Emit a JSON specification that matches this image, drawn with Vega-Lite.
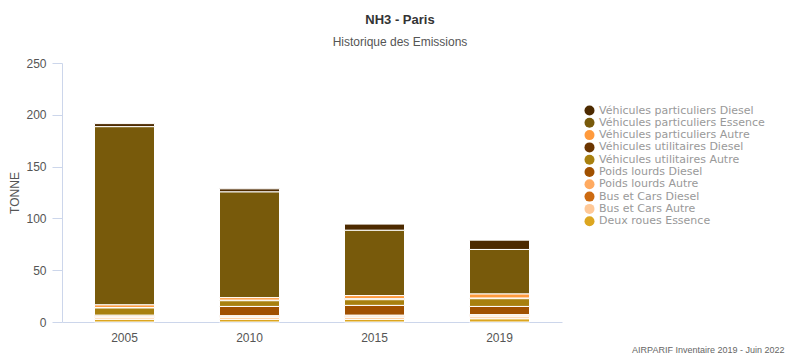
{
  "$schema": "https://vega.github.io/schema/vega-lite/v6.json",
  "width": 500,
  "height": 259,
  "autosize": {"type": "none"},
  "padding": {"left": 62, "top": 63, "right": 233, "bottom": 34},
  "background": "white",
  "title": {
    "text": "NH3 - Paris",
    "subtitle": "Historique des Emissions",
    "anchor": "middle",
    "dx": 88,
    "offset": 9,
    "font": "Liberation Sans",
    "fontSize": 13,
    "fontWeight": "bold",
    "color": "#333333",
    "subtitleFont": "Liberation Sans",
    "subtitleFontSize": 12,
    "subtitleColor": "#555555",
    "subtitlePadding": 10
  },
  "data": {
    "values": [
      {"annee": "2005", "categorie": "Véhicules particuliers Diesel", "rang": 1, "tonnes": 3},
      {"annee": "2005", "categorie": "Véhicules particuliers Essence", "rang": 2, "tonnes": 172},
      {"annee": "2005", "categorie": "Véhicules particuliers Autre", "rang": 3, "tonnes": 2.5},
      {"annee": "2005", "categorie": "Véhicules utilitaires Diesel", "rang": 4, "tonnes": 0.5},
      {"annee": "2005", "categorie": "Véhicules utilitaires Autre", "rang": 5, "tonnes": 7},
      {"annee": "2005", "categorie": "Poids lourds Diesel", "rang": 6, "tonnes": 1},
      {"annee": "2005", "categorie": "Poids lourds Autre", "rang": 7, "tonnes": 1},
      {"annee": "2005", "categorie": "Bus et Cars Diesel", "rang": 8, "tonnes": 0.5},
      {"annee": "2005", "categorie": "Bus et Cars Autre", "rang": 9, "tonnes": 1.5},
      {"annee": "2005", "categorie": "Deux roues Essence", "rang": 10, "tonnes": 2.5},
      {"annee": "2010", "categorie": "Véhicules particuliers Diesel", "rang": 1, "tonnes": 3},
      {"annee": "2010", "categorie": "Véhicules particuliers Essence", "rang": 2, "tonnes": 102},
      {"annee": "2010", "categorie": "Véhicules particuliers Autre", "rang": 3, "tonnes": 2.5},
      {"annee": "2010", "categorie": "Véhicules utilitaires Diesel", "rang": 4, "tonnes": 0.5},
      {"annee": "2010", "categorie": "Véhicules utilitaires Autre", "rang": 5, "tonnes": 5.5},
      {"annee": "2010", "categorie": "Poids lourds Diesel", "rang": 6, "tonnes": 9},
      {"annee": "2010", "categorie": "Poids lourds Autre", "rang": 7, "tonnes": 1},
      {"annee": "2010", "categorie": "Bus et Cars Diesel", "rang": 8, "tonnes": 0.5},
      {"annee": "2010", "categorie": "Bus et Cars Autre", "rang": 9, "tonnes": 2},
      {"annee": "2010", "categorie": "Deux roues Essence", "rang": 10, "tonnes": 2.5},
      {"annee": "2015", "categorie": "Véhicules particuliers Diesel", "rang": 1, "tonnes": 6},
      {"annee": "2015", "categorie": "Véhicules particuliers Essence", "rang": 2, "tonnes": 63},
      {"annee": "2015", "categorie": "Véhicules particuliers Autre", "rang": 3, "tonnes": 3},
      {"annee": "2015", "categorie": "Véhicules utilitaires Diesel", "rang": 4, "tonnes": 1},
      {"annee": "2015", "categorie": "Véhicules utilitaires Autre", "rang": 5, "tonnes": 5.5},
      {"annee": "2015", "categorie": "Poids lourds Diesel", "rang": 6, "tonnes": 9.5},
      {"annee": "2015", "categorie": "Poids lourds Autre", "rang": 7, "tonnes": 1},
      {"annee": "2015", "categorie": "Bus et Cars Diesel", "rang": 8, "tonnes": 1},
      {"annee": "2015", "categorie": "Bus et Cars Autre", "rang": 9, "tonnes": 2},
      {"annee": "2015", "categorie": "Deux roues Essence", "rang": 10, "tonnes": 2.5},
      {"annee": "2019", "categorie": "Véhicules particuliers Diesel", "rang": 1, "tonnes": 9},
      {"annee": "2019", "categorie": "Véhicules particuliers Essence", "rang": 2, "tonnes": 43},
      {"annee": "2019", "categorie": "Véhicules particuliers Autre", "rang": 3, "tonnes": 4},
      {"annee": "2019", "categorie": "Véhicules utilitaires Diesel", "rang": 4, "tonnes": 0.5},
      {"annee": "2019", "categorie": "Véhicules utilitaires Autre", "rang": 5, "tonnes": 7.5},
      {"annee": "2019", "categorie": "Poids lourds Diesel", "rang": 6, "tonnes": 8},
      {"annee": "2019", "categorie": "Poids lourds Autre", "rang": 7, "tonnes": 1},
      {"annee": "2019", "categorie": "Bus et Cars Diesel", "rang": 8, "tonnes": 1},
      {"annee": "2019", "categorie": "Bus et Cars Autre", "rang": 9, "tonnes": 2},
      {"annee": "2019", "categorie": "Deux roues Essence", "rang": 10, "tonnes": 3}
    ]
  },
  "mark": {"type": "bar", "stroke": "white", "strokeWidth": 1},
  "encoding": {
    "x": {
      "field": "annee",
      "type": "nominal",
      "scale": {"paddingInner": 0.52, "paddingOuter": 0.26},
      "axis": {
        "labelAngle": 0,
        "labelFont": "Liberation Sans",
        "labelFontSize": 12,
        "labelColor": "#555555",
        "labelPadding": 10,
        "ticks": false,
        "domainColor": "#ccd6eb",
        "title": "AIRPARIF Inventaire 2019 - Juin 2022",
        "titleFont": "Liberation Sans",
        "titleFontSize": 9,
        "titleFontWeight": "normal",
        "titleColor": "#666666",
        "titleAnchor": "end",
        "titleAlign": "right",
        "titleBaseline": "alphabetic",
        "titleX": 722,
        "titleY": 30
      }
    },
    "y": {
      "field": "tonnes",
      "type": "quantitative",
      "stack": "zero",
      "scale": {"domain": [0, 250], "nice": false},
      "axis": {
        "values": [0, 50, 100, 150, 200, 250],
        "grid": false,
        "title": "TONNE",
        "titleFont": "Liberation Sans",
        "titleFontSize": 12,
        "titleFontWeight": "normal",
        "titleColor": "#555555",
        "titlePadding": 4,
        "labelFont": "Liberation Sans",
        "labelFontSize": 12,
        "labelColor": "#555555",
        "labelPadding": 6,
        "tickSize": 10,
        "tickColor": "#ccd6eb",
        "domainColor": "#ccd6eb"
      }
    },
    "color": {
      "field": "categorie",
      "type": "nominal",
      "sort": [
        "Véhicules particuliers Diesel",
        "Véhicules particuliers Essence",
        "Véhicules particuliers Autre",
        "Véhicules utilitaires Diesel",
        "Véhicules utilitaires Autre",
        "Poids lourds Diesel",
        "Poids lourds Autre",
        "Bus et Cars Diesel",
        "Bus et Cars Autre",
        "Deux roues Essence"
      ],
      "scale": {
        "domain": [
          "Véhicules particuliers Diesel",
          "Véhicules particuliers Essence",
          "Véhicules particuliers Autre",
          "Véhicules utilitaires Diesel",
          "Véhicules utilitaires Autre",
          "Poids lourds Diesel",
          "Poids lourds Autre",
          "Bus et Cars Diesel",
          "Bus et Cars Autre",
          "Deux roues Essence"
        ],
        "range": ["#4d2a00", "#785a0b", "#ff9a3c", "#6b3500", "#a8800f", "#a05000", "#ffaa60", "#cc6a10", "#ffc896", "#dca620"]
      },
      "legend": {
        "title": null,
        "orient": "none",
        "legendX": 522,
        "legendY": 42,
        "symbolType": "circle",
        "symbolSize": 100,
        "symbolStrokeWidth": 0,
        "labelFont": "DejaVu Sans",
        "labelFontSize": 11,
        "labelColor": "#999999",
        "labelOffset": 4,
        "rowPadding": 0.3,
        "labelLimit": 300
      }
    },
    "order": {"field": "rang", "type": "quantitative", "sort": "descending"}
  },
  "config": {
    "view": {"stroke": null},
    "font": "Liberation Sans"
  }
}
